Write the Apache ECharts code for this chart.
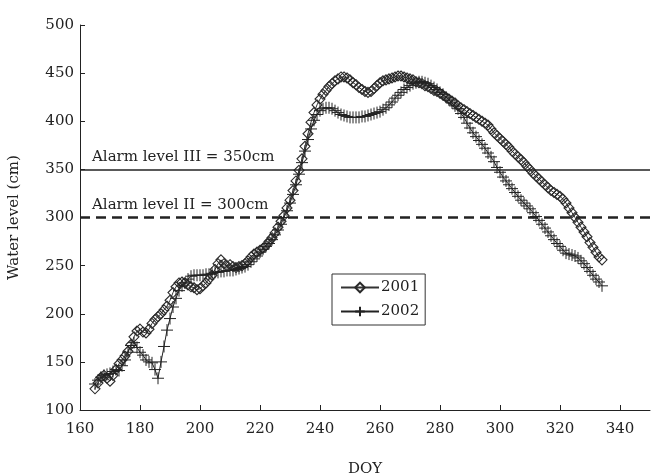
<!DOCTYPE html>
<html>
<head>
<meta charset="utf-8">
<script src="https://cdn.jsdelivr.net/npm/echarts@6/dist/echarts.min.js"></script>
<style>
  html, body { margin: 0; padding: 0; background: #fff; }
  #chart { width: 657px; height: 475px; }
</style>
</head>
<body>
<div id="chart"></div>
<script>
  // first day of both records (DOY), one value per day after that
  var startDay = 165;

  // 2001 water level (cm), DOY 165 .. 334
  var level2001 = [
    122, 128, 134, 136, 133, 130, 136, 142, 148, 152,
    156, 161, 168, 176, 182, 184, 181, 180, 184, 190,
    194, 197, 200, 204, 208, 214, 222, 228, 232, 233,
    232, 230, 228, 227, 225, 226, 229, 232, 236, 240,
    246, 252, 256, 252, 250, 251, 249, 248, 249, 250,
    252, 255, 259, 262, 264, 266, 268, 271, 275, 279,
    284, 290, 296, 302, 310, 318, 328, 338, 349, 361,
    374, 387, 399, 409, 417, 423, 428, 432, 436, 439,
    442, 444, 446, 446, 445, 443, 440, 438, 435, 433,
    431, 430, 431, 434, 437, 440, 442, 443, 444, 445,
    446, 447, 447, 446, 445, 444, 443, 441, 440, 439,
    437, 436, 434, 432, 431, 429, 427, 425, 423, 421,
    419, 416, 414, 412, 410, 408, 406, 404, 402, 400,
    398, 396, 392, 388, 385, 382, 379, 376, 373, 369,
    366, 363, 360, 357, 353, 350, 346, 343, 340, 337,
    334, 331, 328, 326, 324, 322, 319, 315, 310, 305,
    300, 295, 290, 285, 280, 274, 269, 264, 259, 256
  ];

  // 2002 water level (cm), DOY 165 .. 334
  var level2002 = [
    127, 131, 134, 136, 137, 138, 140, 142, 141, 146,
    152, 160, 167, 170, 165, 160, 157, 152, 150, 149,
    142, 133, 150, 166, 183, 195, 207, 216, 224, 229,
    232, 236, 239, 240, 240, 240, 240, 241, 241, 242,
    243, 243, 244, 244, 245, 245, 245, 246, 247, 248,
    249, 251, 254, 257, 260, 264, 267, 270, 273, 277,
    282, 287, 293, 300, 307, 315, 324, 334, 345, 357,
    369, 381, 392, 401, 407, 411, 413, 414, 414, 413,
    411, 409, 407, 406, 405, 404, 404, 404, 404, 405,
    405, 406, 407, 408, 409, 410, 412, 414, 417, 420,
    424, 427, 430, 433, 435, 437, 439, 440, 441, 441,
    440, 439, 437, 435, 433, 430, 428, 425, 422, 419,
    416, 413, 408, 404, 398, 393, 388, 384, 380, 376,
    372, 367, 363, 358, 352, 347, 342, 338, 334, 330,
    326, 322, 318, 315, 312, 309, 305, 301, 297, 293,
    289, 285, 281, 277, 273, 270, 266, 263, 262, 261,
    260, 258, 255, 252, 248, 244, 240, 236, 233, 229
  ];

  var xTicks = [160, 180, 200, 220, 240, 260, 280, 300, 320, 340];
  var alarm3 = 350;
  var alarm2 = 300;

  function pairs(values) {
    return values.map(function (v, i) { return [startDay + i, v]; });
  }

  var font = '"DejaVu Serif", "Liberation Serif", serif';
  var ink = '#222';

  var myChart = echarts.init(document.getElementById('chart'));

  var option = {
    animation: false,
    textStyle: { fontFamily: font, color: ink },
    grid: { left: 80, right: 7, top: 25, bottom: 65, outerBoundsMode: 'none' },
    legend: {
      orient: 'vertical',
      left: 332,
      top: 274,
      data: ['2001', '2002'],
      itemWidth: 38,
      itemHeight: 12,
      itemGap: 9,
      padding: [6, 6, 6, 8],
      borderColor: '#333',
      borderWidth: 1,
      textStyle: { fontFamily: font, fontSize: 15, color: ink, padding: [0, 0, 0, -3] }
    },
    xAxis: {
      type: 'value',
      min: 160,
      max: 350,
      interval: 20,
      name: 'DOY',
      nameLocation: 'middle',
      nameGap: 52,
      nameTextStyle: { fontFamily: font, fontSize: 15, color: ink },
      axisLine: { lineStyle: { color: ink, width: 1 } },
      axisTick: { inside: true, length: 5, customValues: xTicks, lineStyle: { color: ink } },
      axisLabel: {
        customValues: xTicks,
        margin: 12,
        fontFamily: font, fontSize: 15, color: ink,
        formatter: function (v) { return v === 350 ? '' : v; }
      },
      splitLine: { show: false }
    },
    yAxis: {
      type: 'value',
      min: 100,
      max: 500,
      interval: 50,
      name: 'Water level (cm)',
      nameLocation: 'middle',
      nameGap: 58,
      nameTextStyle: { fontFamily: font, fontSize: 15, color: ink },
      axisLine: { show: true, lineStyle: { color: ink, width: 1 } },
      axisTick: { show: true, inside: true, length: 5, lineStyle: { color: ink } },
      axisLabel: { margin: 6, fontFamily: font, fontSize: 15, color: ink },
      splitLine: { show: false }
    },
    series: [
      {
        name: '2001',
        type: 'line',
        data: pairs(level2001),
        symbol: 'diamond',
        symbolSize: 10,
        showAllSymbol: true,
        lineStyle: { color: '#333', width: 1 },
        itemStyle: { color: 'rgba(255,255,255,0)', borderColor: '#2a2a2a', borderWidth: 1.1 },
        markLine: {
          silent: true,
          symbol: 'none',
          label: {
            position: 'insideStartTop',
            fontFamily: font, fontSize: 15, color: ink,
            distance: [12, 5]
          },
          data: [
            {
              yAxis: alarm3,
              lineStyle: { color: ink, width: 1.5, type: 'solid' },
              label: { formatter: 'Alarm level III = 350cm' }
            },
            {
              yAxis: alarm2,
              lineStyle: { color: ink, width: 2.5, type: [10, 6] },
              label: { formatter: 'Alarm level II = 300cm' }
            }
          ]
        }
      },
      {
        name: '2002',
        type: 'line',
        data: pairs(level2002),
        symbol: 'path://M0,5L10,5M5,0L5,10',
        symbolSize: 12,
        showAllSymbol: true,
        lineStyle: { color: '#222', width: 1 },
        itemStyle: { color: 'rgba(255,255,255,0)', borderColor: '#222', borderWidth: 1 }
      }
    ]
  };

  myChart.setOption(option);
</script>
</body>
</html>
